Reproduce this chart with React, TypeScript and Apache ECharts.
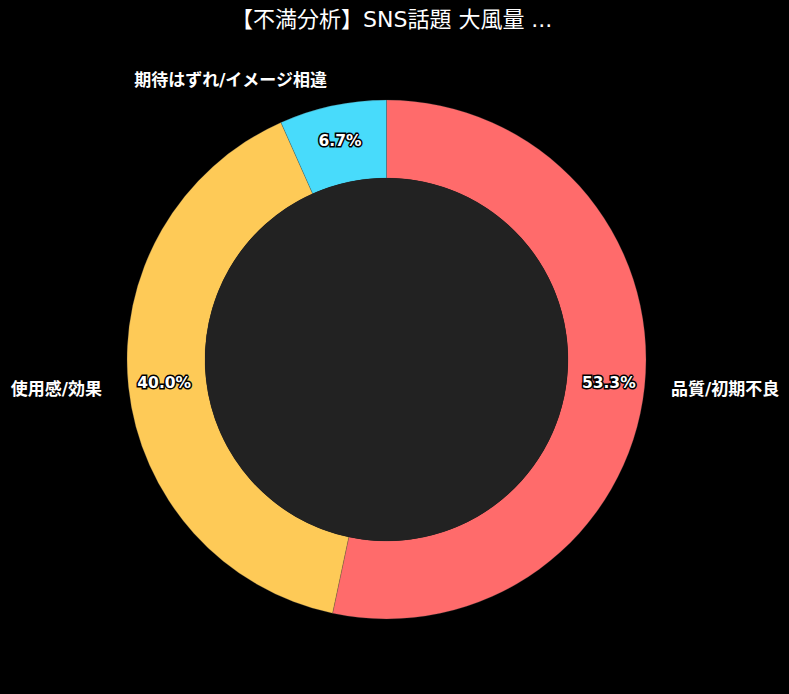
import { useEffect, useRef } from "react";
import * as echarts from "echarts";

const TITLE = "【不満分析】SNS話題 大風量 ...";
const CATEGORIES = ["品質/初期不良", "使用感/効果", "期待はずれ/イメージ相違"];
const VALUES = [8, 6, 1];
const COLORS = ["#ff6b6b", "#feca57", "#48dbfb"];

const FONT = "'DejaVu Sans', 'Noto Sans CJK JP', sans-serif";
const CENTER = [386.5, 359.5];

export default function App() {
  const containerRef = useRef<HTMLDivElement | null>(null);

  useEffect(() => {
    if (!containerRef.current) {
      return;
    }
    document.body.style.margin = "0";

    const chart = echarts.init(containerRef.current, null, { renderer: "svg" });

    const data = CATEGORIES.map((name, index) => ({
      name,
      value: VALUES[index],
      itemStyle: { color: COLORS[index] },
    }));

    const option: echarts.EChartsOption = {
      animation: false,
      backgroundColor: "#000000",
      title: {
        text: TITLE,
        left: 226,
        top: 3,
        textStyle: {
          color: "#ffffff",
          fontSize: 22,
          fontWeight: "normal",
          fontFamily: FONT,
        },
      },
      series: [
        {
          type: "pie",
          center: CENTER,
          radius: [181.5, 259.5],
          startAngle: 90,
          clockwise: true,
          avoidLabelOverlap: false,
          silent: true,
          itemStyle: {
            borderColor: "rgba(70, 70, 70, 0.5)",
            borderWidth: 0.5,
          },
          label: {
            show: true,
            position: "inside",
            formatter: (params: any) => `${Number(params.percent).toFixed(1)}%`,
            color: "#ffffff",
            fontSize: 15.5,
            fontWeight: "bold",
            fontFamily: FONT,
            textBorderColor: "#000000",
            textBorderWidth: 3,
          },
          labelLine: { show: false },
          data,
        },
        {
          type: "pie",
          center: CENTER,
          radius: [181.5, 259.5],
          startAngle: 90,
          clockwise: true,
          avoidLabelOverlap: false,
          silent: true,
          z: 1,
          itemStyle: {
            color: "rgba(0,0,0,0)",
            borderWidth: 0,
          },
          label: {
            show: true,
            position: "outside",
            formatter: "{b}",
            color: "#ffffff",
            fontSize: 17,
            fontWeight: "bold",
            fontFamily: FONT,
            distanceToLabelLine: 0,
          },
          labelLine: { show: false, length: 26.5, length2: 0 },
          data: CATEGORIES.map((name, index) => ({ name, value: VALUES[index] })),
        },
        {
          type: "pie",
          center: CENTER,
          radius: [0, 181.5],
          silent: true,
          label: { show: false },
          labelLine: { show: false },
          itemStyle: { color: "#222222" },
          data: [{ name: "hole", value: 1 }],
        },
      ],
    };

    chart.setOption(option);

    return () => {
      chart.dispose();
    };
  }, []);

  return <div ref={containerRef} style={{ width: 789, height: 694 }} />;
}
